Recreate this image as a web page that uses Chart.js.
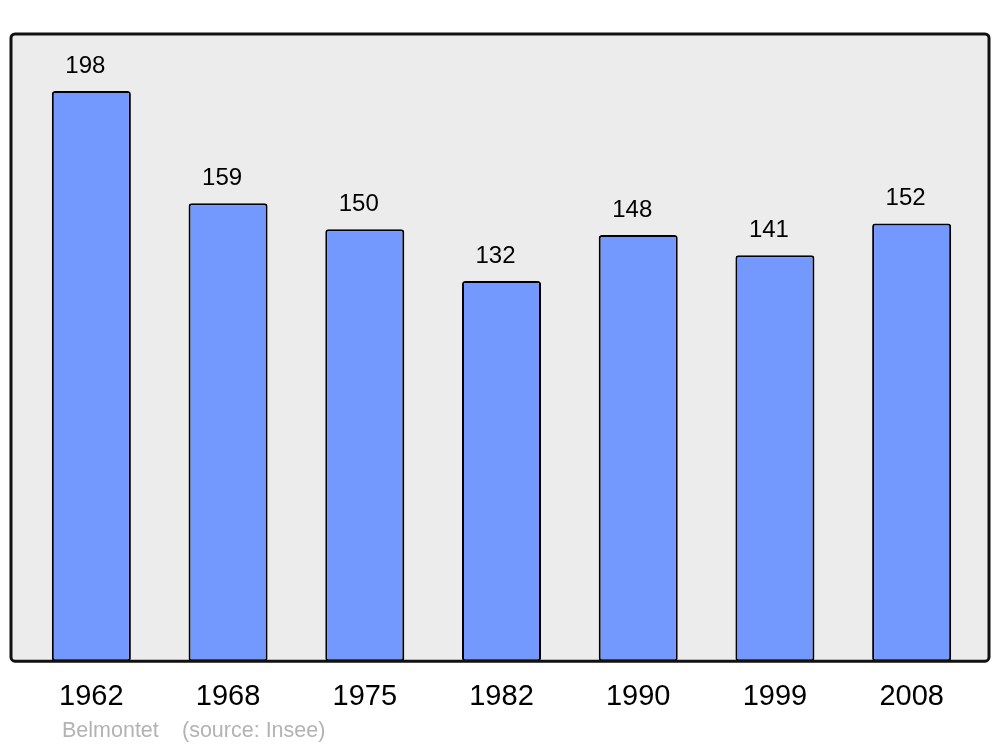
<!DOCTYPE html>
<html>
<head>
<meta charset="utf-8">
<script src="https://cdn.jsdelivr.net/npm/chart.js@4"></script>
<style>
  html, body { margin: 0; padding: 0; background: #ffffff; }
  canvas { display: block; }
</style>
</head>
<body>
<canvas id="popChart" width="1000" height="747"></canvas>
<script>
// data
var years = ['1962', '1968', '1975', '1982', '1990', '1999', '2008'];
var population = [198, 159, 150, 132, 148, 141, 152];
var yMax = 217.8;

// the grey panel is a bit wider than the category band
var frameLeft = 11, frameRight = 989;

function framePath(chart) {
  var a = chart.chartArea, c = chart.ctx;
  c.beginPath();
  c.roundRect(frameLeft, a.top, frameRight - frameLeft, a.bottom - a.top, 4);
}

var framePlugin = {
  id: 'frame',
  beforeDatasetsDraw: function (chart) {
    var c = chart.ctx;
    c.save();
    framePath(chart);
    c.fillStyle = '#ececec';
    c.fill();
    c.restore();
  },
  afterDatasetsDraw: function (chart) {
    var c = chart.ctx;
    c.save();
    framePath(chart);
    c.lineWidth = 3;
    c.strokeStyle = '#111111';
    c.stroke();

    // value above each bar (sits a little left of centre in the original)
    c.fillStyle = '#000000';
    c.font = '24px "Liberation Sans", Arial, sans-serif';
    c.textAlign = 'center';
    c.textBaseline = 'middle';
    chart.getDatasetMeta(0).data.forEach(function (bar, i) {
      c.fillText(String(population[i]), bar.x - 6, bar.y - 25);
    });

    // footer
    c.fillStyle = '#b3b3b3';
    c.font = '21.5px "Liberation Sans", Arial, sans-serif';
    c.textAlign = 'left';
    c.fillText('Belmontet', 62, 731);
    c.fillText('(source: Insee)', 182, 731);
    c.restore();
  }
};

var ctx = document.getElementById('popChart').getContext('2d');
var popChart = new Chart(ctx, {
  type: 'bar',
  data: {
    labels: years,
    datasets: [{
      data: population,
      backgroundColor: '#7399ff',
      borderColor: '#000000',
      borderWidth: 2,
      borderRadius: 3,
      borderSkipped: false,
      barPercentage: 0.578,
      categoryPercentage: 1
    }]
  },
  options: {
    responsive: false,
    animation: false,
    layout: {
      padding: { top: 34, left: 23, right: 20, bottom: 15 }
    },
    scales: {
      x: {
        grid: { display: false, drawTicks: false },
        border: { display: false },
        ticks: {
          padding: 18,
          color: '#000000',
          font: { family: '"Liberation Sans", Arial, sans-serif', size: 29 }
        }
      },
      y: {
        display: false,
        min: 0,
        max: yMax
      }
    },
    plugins: {
      legend: { display: false },
      tooltip: { enabled: false }
    }
  },
  plugins: [framePlugin]
});
</script>
</body>
</html>
